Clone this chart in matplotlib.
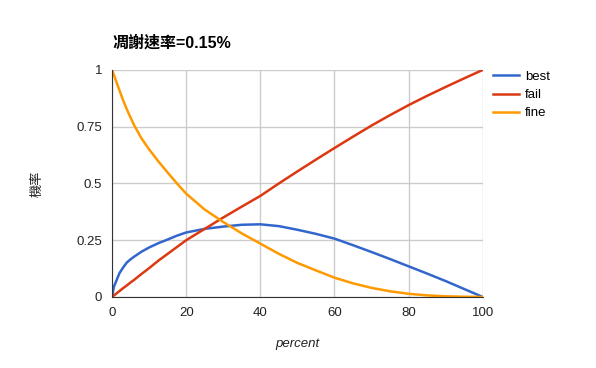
import matplotlib.pyplot as plt

plt.rcParams['font.family'] = ['Liberation Sans', 'Noto Sans CJK TC']

# values
percent = [0, 0.5, 1, 2, 3, 4, 5, 6, 8, 10, 12.5, 15, 17.5, 20, 25, 30, 35, 40,
           45, 50, 55, 60, 65, 70, 75, 80, 85, 90, 95, 100]
best = [0, 0.045, 0.065, 0.105, 0.13, 0.152, 0.166, 0.178, 0.2, 0.218, 0.237,
        0.253, 0.27, 0.284, 0.30, 0.31, 0.318, 0.32, 0.312, 0.296, 0.278,
        0.257, 0.228, 0.198, 0.167, 0.135, 0.103, 0.07, 0.035, 0]
fail = [0, 0.0065, 0.013, 0.026, 0.039, 0.051, 0.064, 0.076, 0.102, 0.127,
        0.16, 0.19, 0.22, 0.25, 0.30, 0.35, 0.398, 0.445, 0.50, 0.553, 0.605,
        0.656, 0.706, 0.755, 0.801, 0.845, 0.886, 0.925, 0.963, 1.0]
fine = [1, 0.978, 0.955, 0.91, 0.866, 0.826, 0.79, 0.755, 0.697, 0.65, 0.597,
        0.548, 0.5, 0.455, 0.385, 0.33, 0.28, 0.235, 0.19, 0.15, 0.117, 0.085,
        0.06, 0.04, 0.025, 0.014, 0.007, 0.003, 0.001, 0]

series = [("best", best, "#3366cc"), ("fail", fail, "#dc3912"), ("fine", fine, "#ff9900")]
xticks = [0, 20, 40, 60, 80, 100]
yticks = [0, 0.25, 0.5, 0.75, 1]
ytick_labels = ["0", "0.25", "0.5", "0.75", "1"]

fig = plt.figure(figsize=(5.96, 3.68), dpi=100)
ax = fig.add_axes([0.188, 0.193, 0.622, 0.617])

for name, vals, color in series:
    ax.plot(percent, vals, color=color, lw=1.8, label=name)

ax.set_xlim(0, 100)
ax.set_ylim(0, 1)
ax.set_xticks(xticks)
ax.set_yticks(yticks)
ax.set_yticklabels(ytick_labels)
ax.tick_params(length=0, labelsize=9.5, colors="#222222", pad=7)
ax.grid(color="#cccccc", lw=1)
ax.set_axisbelow(True)
for s in ["top", "right"]:
    ax.spines[s].set_visible(False)
for s in ["left", "bottom"]:
    ax.spines[s].set_color("#333333")

ax.set_xlabel("percent", style="italic", fontsize=9.5, color="#222222", labelpad=14)
ax.set_ylabel("機率", style="italic", fontsize=9.5, color="#222222", labelpad=24)

fig.text(0.188, 0.883, "凋謝速率=0.15%", fontsize=11.5, fontweight="bold",
         ha="left", va="center")

fig.legend(loc="upper left", bbox_to_anchor=(0.808, 0.84), frameon=False,
           fontsize=9.5, handlelength=1.9, labelspacing=0.45, handletextpad=0.5)

fig.savefig("out.png")
